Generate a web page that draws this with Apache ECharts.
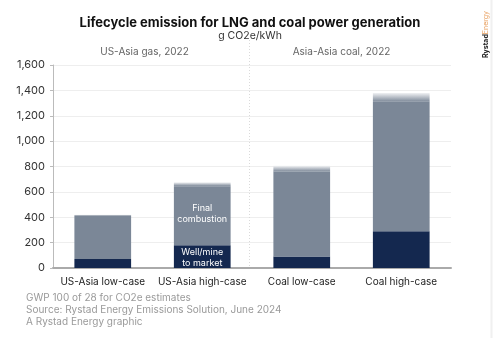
<!DOCTYPE html>
<html>
<head>
<meta charset="utf-8">
<script src="https://cdn.jsdelivr.net/npm/echarts@6/dist/echarts.min.js"></script>
<style>
  html, body { margin: 0; padding: 0; background: #fff; }
  #chart { width: 500px; height: 338px; }
</style>
</head>
<body>
<div id="chart"></div>
<script>
// Lifecycle emissions, g CO2e/kWh
const categories = ['US-Asia low-case', 'US-Asia high-case', 'Coal low-case', 'Coal high-case'];
const wellToMarket = [70, 180, 90, 290];
const finalCombustion = [340, 465, 670, 1020];
const upperRange = [10, 30, 45, 70];
const yTicks = [0, 200, 400, 600, 800, 1000, 1200, 1400, 1600];
const groupLabels = ['US-Asia gas, 2022', 'Asia-Asia coal, 2022'];
const footnotes = [
  'GWP 100 of 28 for CO2e estimates',
  'Source: Rystad Energy Emissions Solution, June 2024',
  'A Rystad Energy graphic'
];

const FONT = 'Inter, Roboto, "Liberation Sans", sans-serif';
const NAVY = '#14284f';
const GREY = '#7b8797';

const chart = echarts.init(document.getElementById('chart'), null, { renderer: 'canvas' });

const option = {
  animation: false,
  backgroundColor: '#fff',
  title: {
    text: 'Lifecycle emission for LNG and coal power generation',
    subtext: 'g CO2e/kWh',
    left: 245,
    textAlign: 'center',
    top: 12,
    itemGap: 0,
    textStyle: { fontFamily: FONT, fontSize: 13, fontWeight: 'bold', color: '#111' },
    subtextStyle: { fontFamily: FONT, fontSize: 10.5, color: '#333' }
  },
  grid: { left: 53, right: 49, top: 65, bottom: 70, containLabel: false },
  xAxis: {
    type: 'category',
    data: categories,
    axisLine: { lineStyle: { color: '#aaa', width: 2 } },
    axisTick: { show: false },
    axisLabel: { fontFamily: FONT, fontSize: 10, color: '#222', margin: 9, interval: 0 }
  },
  yAxis: {
    type: 'value',
    min: yTicks[0],
    max: yTicks[yTicks.length - 1],
    interval: 200,
    axisLine: { show: true, lineStyle: { color: '#bbb', width: 1 } },
    axisTick: { show: true, length: 3, lineStyle: { color: '#bbb' } },
    axisLabel: {
      fontFamily: FONT, fontSize: 11, color: '#333', margin: 8,
      formatter: v => v.toLocaleString('en-US')
    },
    splitLine: { lineStyle: { color: '#eeeeee', width: 1 } }
  },
  series: [
    {
      name: 'Well/mine to market',
      type: 'bar',
      stack: 'total',
      barWidth: '57%',
      data: wellToMarket,
      itemStyle: { color: NAVY },
      label: {
        show: true,
        position: 'inside',
        color: '#fff',
        fontFamily: FONT,
        fontSize: 9,
        lineHeight: 11,
        offset: [0, 1],
        formatter: p => p.dataIndex === 1 ? 'Well/mine\nto market' : ''
      }
    },
    {
      name: 'Final combustion',
      type: 'bar',
      stack: 'total',
      data: finalCombustion,
      itemStyle: { color: GREY },
      label: {
        show: true,
        position: 'inside',
        color: '#fff',
        fontFamily: FONT,
        fontSize: 9,
        lineHeight: 11,
        offset: [0, -2],
        formatter: p => p.dataIndex === 1 ? 'Final\ncombustion' : ''
      }
    },
    {
      name: 'Range',
      type: 'bar',
      stack: 'total',
      data: upperRange,
      itemStyle: {
        color: new echarts.graphic.LinearGradient(0, 0, 0, 1, [
          { offset: 0, color: '#f1f2f4' },
          { offset: 1, color: GREY }
        ])
      }
    }
  ]
};

chart.setOption(option);

// Decorations positioned from the chart's own scales
const leftX = chart.convertToPixel({ xAxisIndex: 0 }, 0);
const midA = chart.convertToPixel({ xAxisIndex: 0 }, 1);
const midB = chart.convertToPixel({ xAxisIndex: 0 }, 2);
const rightX = chart.convertToPixel({ xAxisIndex: 0 }, 3);
const dividerX = Math.round((midA + midB) / 2) - 2.5;
const baseY = chart.convertToPixel({ yAxisIndex: 0 }, 0);

const graphics = [
  {
    type: 'line',
    shape: { x1: dividerX, y1: 40, x2: dividerX, y2: baseY },
    style: { stroke: '#dadada', lineWidth: 1, lineDash: [1, 2] },
    z: 1
  },
  {
    type: 'text',
    x: (leftX + midA) / 2 - 8, y: 52,
    style: { text: groupLabels[0], fill: '#666', font: '10px ' + FONT, textAlign: 'center', textVerticalAlign: 'middle' }
  },
  {
    type: 'text',
    x: (midB + rightX) / 2 - 10, y: 52,
    style: { text: groupLabels[1], fill: '#666', font: '10px ' + FONT, textAlign: 'center', textVerticalAlign: 'middle' }
  },
  {
    type: 'line',
    shape: { x1: 491.5, y1: 0, x2: 491.5, y2: 338 },
    style: { stroke: '#f0f0f0', lineWidth: 2 }
  },
  {
    type: 'group',
    x: 486, y: 58,
    rotation: Math.PI / 2,
    children: [
      {
        type: 'text',
        x: 0, y: 0,
        style: {
          rich: {
            a: { fill: '#222', fontWeight: 'bold', fontSize: 7, fontFamily: FONT },
            b: { fill: '#e8a060', fontSize: 7, fontFamily: FONT }
          },
          text: '{a|Rystad}{b|Energy}',
          textVerticalAlign: 'middle'
        }
      }
    ]
  }
];

footnotes.forEach((t, i) => {
  graphics.push({
    type: 'text',
    x: 26, y: 298 + i * 12,
    style: { text: t, fill: '#9a9a9a', font: '10px ' + FONT, textVerticalAlign: 'middle' }
  });
});

chart.setOption({ graphic: graphics });
</script>
</body>
</html>
